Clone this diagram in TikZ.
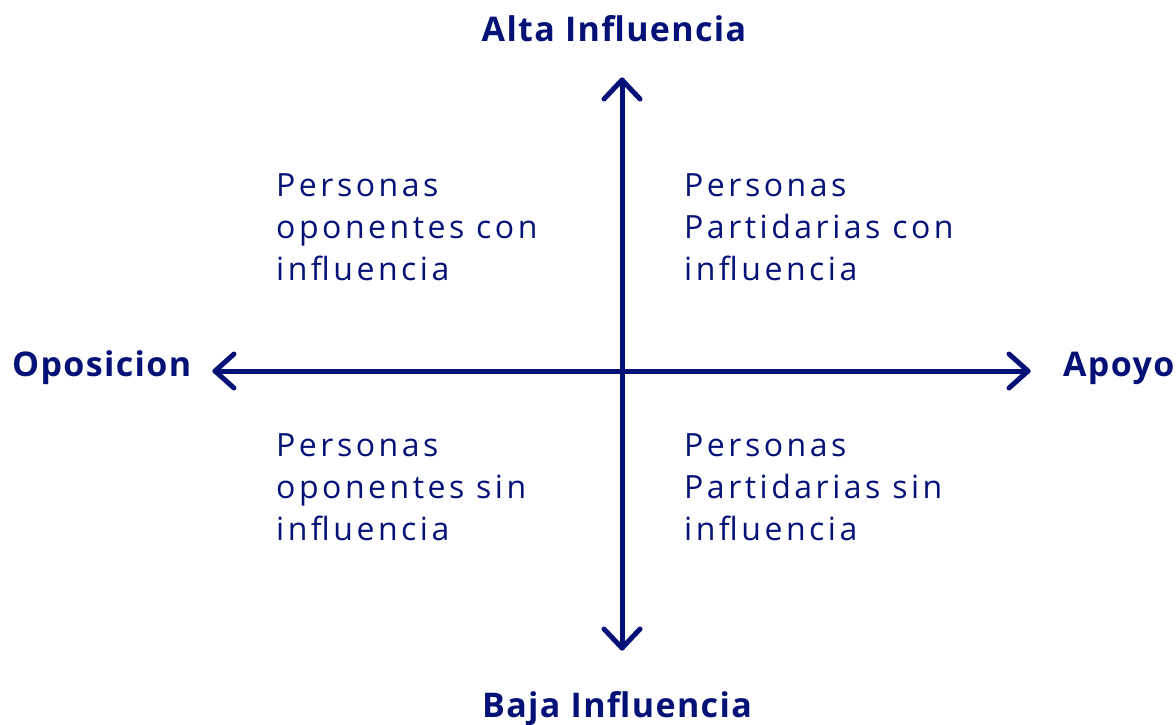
\documentclass[tikz,border=0pt]{standalone}
\usepackage{fontspec}
\setmainfont{Open Sans}
\newfontfamily\qfont[LetterSpace=11]{Open Sans}
\newfontfamily\lfont[LetterSpace=4,BoldFont={Open Sans Bold}]{Open Sans}
\definecolor{navy}{RGB}{4,18,120}
\tikzset{
  axis/.style={draw=navy, line width=5pt, line cap=round, line join=round},
  chev/.style={draw=navy, line width=5pt, line cap=round, line join=round},
  lbl/.style={text=navy, font=\lfont\fontsize{34}{40}\selectfont\bfseries, inner sep=0pt, anchor=base},
  qtxt/.style={text=navy, font=\qfont\fontsize{32}{42}\selectfont, inner sep=0pt, anchor=base west},
}
\begin{document}
\begin{tikzpicture}[x=1pt,y=-1pt]
\useasboundingbox (0,0) rectangle (1176,724);
% axes
\coordinate (top) at (622,80);
\coordinate (bot) at (622,648);
\coordinate (lft) at (215,371);
\coordinate (rgt) at (1028,371);
\draw[axis] (top) -- (bot);
\draw[axis] (lft) -- (rgt);
\draw[chev] ([xshift=-18pt,yshift=-19pt]top) -- (top) -- ([xshift=18pt,yshift=-19pt]top);
\draw[chev] ([xshift=-18pt,yshift=19pt]bot) -- (bot) -- ([xshift=18pt,yshift=19pt]bot);
\draw[chev] ([xshift=19pt,yshift=-17pt]lft) -- (lft) -- ([xshift=19pt,yshift=17pt]lft);
\draw[chev] ([xshift=-19pt,yshift=-17pt]rgt) -- (rgt) -- ([xshift=-19pt,yshift=17pt]rgt);
% axis labels
\node[lbl] (alta) at (614,41) {Alta Influencia};
\node[lbl] (baja) at (617,717) {Baja Influencia};
\node[lbl, anchor=base west] (opo) at (12,376) {Oposicion};
\node[lbl, anchor=base west] (apo) at (1063,376) {Apoyo};
% quadrants
\node[qtxt] (q1a) at (276,196) {Personas};
\node[qtxt] (q1b) at (276,238) {oponentes con};
\node[qtxt] (q1c) at (276,280) {influencia};
\node[qtxt] (q2a) at (684,196) {Personas};
\node[qtxt] (q2b) at (684,238) {Partidarias con};
\node[qtxt] (q2c) at (684,280) {influencia};
\node[qtxt] (q3a) at (276,456) {Personas};
\node[qtxt] (q3b) at (276,498) {oponentes sin};
\node[qtxt] (q3c) at (276,540) {influencia};
\node[qtxt] (q4a) at (684,456) {Personas};
\node[qtxt] (q4b) at (684,498) {Partidarias sin};
\node[qtxt] (q4c) at (684,540) {influencia};
\end{tikzpicture}
\end{document}
